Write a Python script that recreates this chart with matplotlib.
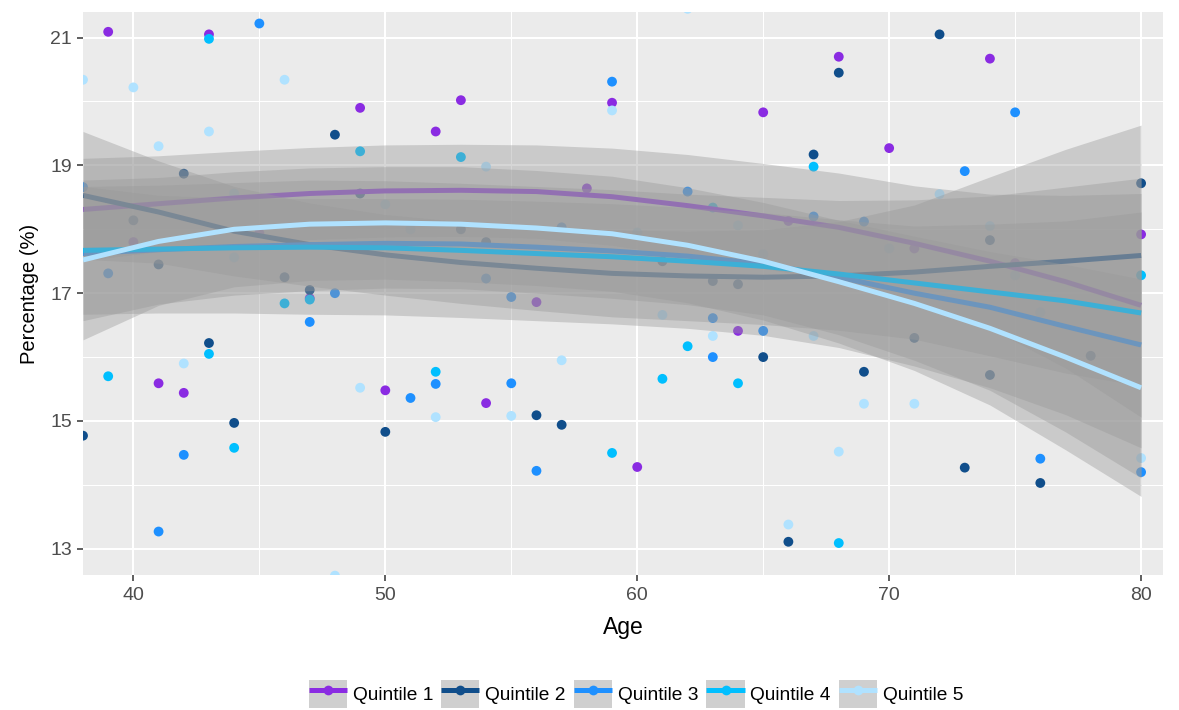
import numpy as np
import matplotlib
matplotlib.use("Agg")
import matplotlib.pyplot as plt
from matplotlib.patches import Patch
from matplotlib.lines import Line2D
from matplotlib.ticker import FixedLocator

plt.rcParams['font.family'] = ['Liberation Sans', 'DejaVu Sans']

groups = ["Quintile 1", "Quintile 2", "Quintile 3", "Quintile 4", "Quintile 5"]
colors = ["#8A2BE2", "#104E8B", "#1E90FF", "#00BFFF", "#B0E2FF"]

# ---- observed points (age, percentage) per quintile ----
q1_age = [39, 43, 49, 53, 52, 59, 65, 68, 74, 70, 80, 41, 42, 50, 54, 60, 56, 64, 47, 58, 40, 71, 75, 45, 66]
q1_pct = [21.09, 21.05, 19.90, 20.02, 19.53, 19.98, 19.83, 20.70, 20.67, 19.27, 17.92, 15.59, 15.44, 15.48,
          15.28, 14.28, 16.86, 16.41, 16.92, 18.64, 17.80, 17.70, 17.47, 17.94, 18.13]

q2_age = [38, 43, 44, 48, 50, 56, 57, 65, 66, 67, 68, 69, 72, 73, 76, 80, 42, 41, 46, 47, 54, 61, 63, 64,
          74, 78, 71, 74, 40, 49, 53]
q2_pct = [14.77, 16.22, 14.97, 19.48, 14.83, 15.09, 14.94, 16.00, 13.11, 19.17, 20.45, 15.77, 21.05, 14.27,
          14.03, 18.72, 18.87, 17.45, 17.25, 17.05, 17.80, 17.50, 17.19, 17.14, 15.72, 16.02, 16.30, 17.83,
          18.14, 18.56, 18.00]

q3_age = [45, 59, 73, 75, 47, 42, 41, 51, 52, 55, 56, 63, 76, 80, 38, 39, 48, 54, 55, 62, 65, 67, 63, 57, 69]
q3_pct = [21.22, 20.31, 18.91, 19.83, 16.55, 14.47, 13.27, 15.36, 15.58, 15.59, 14.22, 16.00, 14.41, 14.20,
          18.66, 17.31, 17.00, 17.23, 16.94, 18.59, 16.41, 18.20, 16.61, 18.03, 18.12]

q4_age = [43, 39, 43, 44, 49, 53, 52, 59, 61, 62, 64, 67, 68, 80, 46, 47, 63]
q4_pct = [20.98, 15.70, 16.05, 14.58, 19.22, 19.13, 15.77, 14.50, 15.66, 16.17, 15.59, 18.98, 13.09, 17.28,
          16.84, 16.90, 18.34]

q5_age = [38, 40, 46, 43, 41, 59, 54, 62, 72, 42, 49, 48, 52, 55, 57, 61, 63, 66, 68, 69, 71, 80, 44, 50,
          51, 60, 65, 67, 74, 76, 70, 44, 64, 75]
q5_pct = [20.34, 20.22, 20.34, 19.53, 19.30, 19.86, 18.98, 21.45, 18.55, 15.90, 15.52, 12.58, 15.06, 15.08,
          15.95, 16.66, 16.33, 13.38, 14.52, 15.27, 15.27, 14.42, 17.56, 18.39, 18.00, 17.95, 17.61, 16.33,
          18.05, 16.70, 17.70, 18.56, 18.06, 17.28]

# ---- smoothed (loess) fits, with CI half widths ----
fit_age = [38, 41, 44, 47, 50, 53, 56, 59, 62, 65, 68, 71, 74, 77, 80]
q1_fit = [18.31, 18.40, 18.49, 18.56, 18.60, 18.61, 18.59, 18.51, 18.37, 18.21, 18.03, 17.78, 17.50, 17.18, 16.81]
q2_fit = [18.53, 18.27, 17.97, 17.76, 17.60, 17.48, 17.39, 17.31, 17.27, 17.25, 17.27, 17.33, 17.42, 17.50, 17.59]
q3_fit = [17.62, 17.68, 17.73, 17.76, 17.78, 17.77, 17.72, 17.66, 17.58, 17.46, 17.25, 17.00, 16.78, 16.48, 16.19]
q4_fit = [17.67, 17.69, 17.71, 17.72, 17.71, 17.67, 17.62, 17.57, 17.50, 17.42, 17.30, 17.16, 17.02, 16.88, 16.69]
q5_fit = [17.52, 17.81, 18.00, 18.08, 18.10, 18.08, 18.02, 17.93, 17.75, 17.50, 17.18, 16.84, 16.45, 16.00, 15.52]

q1_se = [0.80, 0.75, 0.73, 0.72, 0.72, 0.72, 0.73, 0.76, 0.80, 0.82, 0.85, 0.90, 1.05, 1.35, 1.75]
q2_se = [1.00, 0.80, 0.70, 0.65, 0.63, 0.64, 0.66, 0.68, 0.70, 0.74, 0.85, 1.05, 1.40, 1.75, 2.04]
q3_se = [1.05, 0.85, 0.76, 0.72, 0.70, 0.70, 0.72, 0.74, 0.76, 0.80, 0.90, 1.05, 1.30, 1.65, 2.08]
q4_se = [1.00, 1.00, 1.02, 1.05, 1.05, 1.05, 1.05, 1.05, 1.05, 1.08, 1.15, 1.30, 1.50, 1.78, 2.11]
q5_se = [1.25, 1.00, 0.90, 0.88, 0.88, 0.90, 0.90, 0.90, 0.90, 0.92, 0.96, 1.05, 1.20, 1.45, 1.70]

x_major = [40, 50, 60, 70, 80]
x_minor = [45, 55, 65, 75]
y_major = [13, 15, 17, 19, 21]
y_minor = [14, 16, 18, 20]

ages = [q1_age, q2_age, q3_age, q4_age, q5_age]
pcts = [q1_pct, q2_pct, q3_pct, q4_pct, q5_pct]
fits = [q1_fit, q2_fit, q3_fit, q4_fit, q5_fit]
ses = [q1_se, q2_se, q3_se, q4_se, q5_se]

W, H = 1179, 710
fig = plt.figure(figsize=(W / 100, H / 100), dpi=100)
L, R, T, B = 83, 1163, 12, 575
ax = fig.add_axes([L / W, 1 - B / H, (R - L) / W, (B - T) / H])
ax.set_facecolor('#EBEBEB')
for s in ax.spines.values():
    s.set_visible(False)

ax.set_xlim(38, 80.87)
ax.set_ylim(12.59, 21.40)

ax.xaxis.set_major_locator(FixedLocator(x_major))
ax.xaxis.set_minor_locator(FixedLocator(x_minor))
ax.yaxis.set_major_locator(FixedLocator(y_major))
ax.yaxis.set_minor_locator(FixedLocator(y_minor))
ax.grid(which='major', color='white', lw=1.5)
ax.grid(which='minor', color='white', lw=0.75)
ax.set_axisbelow(True)
ax.tick_params(which='major', length=4, width=1.1, color='#333333', labelcolor='#4D4D4D',
               labelsize=14, pad=5)
ax.tick_params(axis='y', which='major', pad=4)
ax.tick_params(which='minor', length=0)

for i in range(5):
    ax.scatter(ages[i], pcts[i], s=50, color=colors[i], edgecolors='none', zorder=2, clip_on=True)

for i in range(5):
    f = np.array(fits[i])
    e = np.array(ses[i])
    ax.fill_between(fit_age, f - e, f + e, color='#999999', alpha=0.4, lw=0, zorder=3 + 2 * i)
    ax.plot(fit_age, f, color=colors[i], lw=3.6, zorder=4 + 2 * i, solid_capstyle='butt')

ax.set_xlabel('Age', fontsize=16.5, color='black', labelpad=8)
ax.set_ylabel('Percentage (%)', fontsize=14.5, color='black', labelpad=8)

handles = []
for c in colors:
    handles.append((Patch(facecolor='#CFCFCF', edgecolor='none'),
                    Line2D([], [], color=c, lw=3.6, marker='o', markersize=7, markeredgewidth=0,
                           solid_capstyle='butt')))
fig.legend(handles, groups, loc='center', bbox_to_anchor=(636 / W, 1 - 694 / H), ncol=5,
           frameon=False, fontsize=13.8, handlelength=2.0, handleheight=1.8, handletextpad=0.3,
           columnspacing=0.42, borderpad=0, borderaxespad=0)

fig.savefig('out.png', dpi=100, facecolor='white')
